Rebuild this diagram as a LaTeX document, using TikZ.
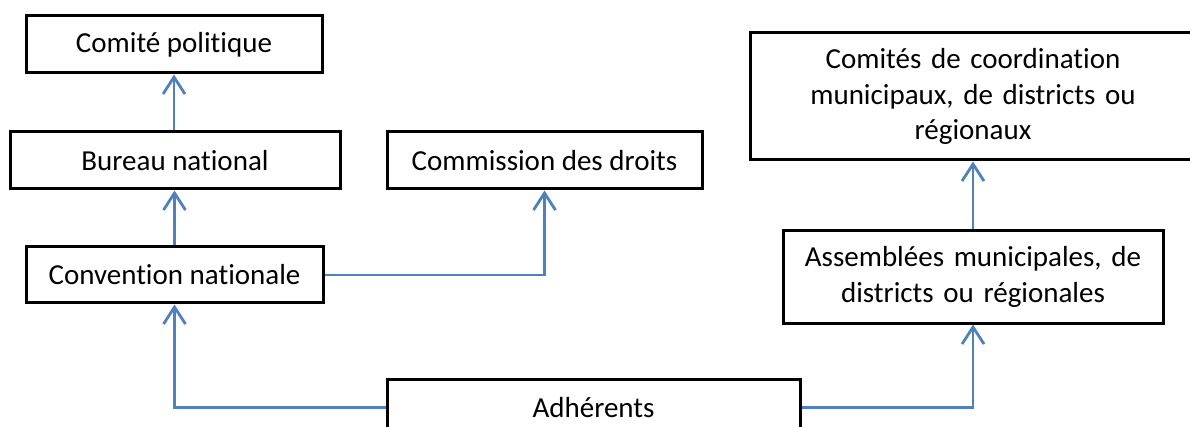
\documentclass[tikz,border=0pt]{standalone}
\usepackage{fontspec}
\setmainfont[Ligatures=NoCommon]{Carlito}
\usetikzlibrary{arrows.meta}
\begin{document}
\begin{tikzpicture}[x=1pt,y=-1pt,
  box/.style={draw=black, line width=3pt, fill=white, inner sep=0pt, align=center,
    font=\fontsize{29}{35.5}\selectfont},
  conn/.style={draw={rgb,255:red,79;green,129;blue,189}, line width=2.8pt,
    -{Straight Barb[length=17pt,width=22pt,line width=2.8pt]}}]
\useasboundingbox (0,0) rectangle (1190,427);
\clip (0,0) rectangle (1190,427);
\fill[white] (0,0) rectangle (1190,427);
\node[box, minimum width=296pt, minimum height=57pt] (comite) at (174,44.5) {Comité politique};
\node[box, minimum width=330pt, minimum height=57pt] (bureau) at (175,160.5) {Bureau national};
\node[box, minimum width=297pt, minimum height=56pt] (convention) at (174.5,275) {Convention nationale};
\node[box, minimum width=315pt, minimum height=57pt] (commission) at (544.5,160.5) {Commission des droits};
\node[box, minimum width=413pt, minimum height=57pt] (adherents) at (593.5,407.5) {Adhérents};
\node[box, minimum width=446pt, minimum height=127pt, text width=420pt] (coord) at (973,96.5)
  {Comités de coordination\\municipaux, de districts ou\\régionaux};
\node[box, minimum width=380pt, minimum height=92pt, text width=370pt] (assemblees) at (973,277)
  {Assemblées municipales, de\\districts ou régionales};
\draw[conn] (bureau.north -| comite.south) -- (comite.south);
\draw[conn] (convention.north) -- (bureau.south -| convention.north);
\draw[conn] (convention.east) -| (commission.south);
\draw[conn] (adherents.west) -| (convention.south);
\draw[conn] (adherents.east) -| (assemblees.south);
\draw[conn] (assemblees.north) -- (coord.south -| assemblees.north);
\end{tikzpicture}
\end{document}
